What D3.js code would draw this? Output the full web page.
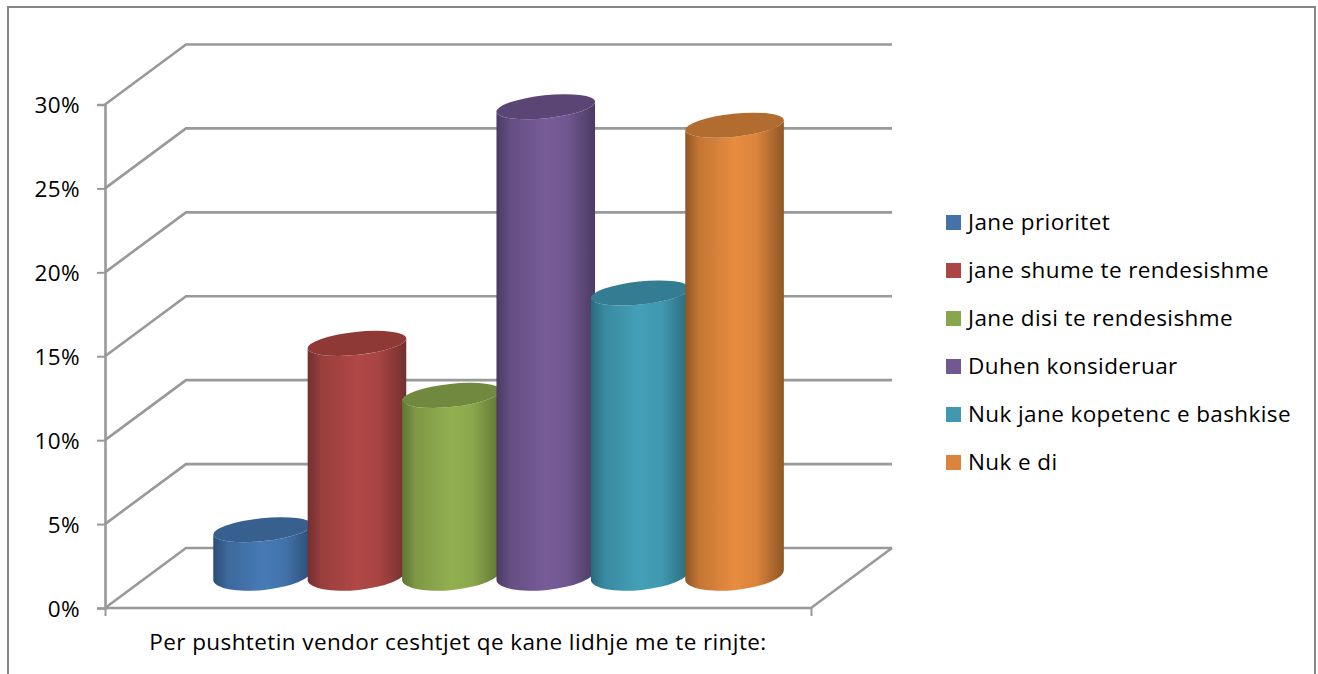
<!DOCTYPE html>
<html><head><meta charset="utf-8">
<script src="https://cdn.jsdelivr.net/npm/d3@7/dist/d3.min.js"></script>
<style>html,body{margin:0;padding:0;background:#fff}svg{display:block}text{font-family:"Open Sans",sans-serif;fill:#000;letter-spacing:0.4px}</style>
</head><body><div id="c"></div>
<script>
const categories=["Jane prioritet","jane shume te rendesishme","Jane disi te rendesishme","Duhen konsideruar","Nuk jane kopetenc e bashkise","Nuk e di"];
const values=[2.7,13.8,10.7,27.9,16.8,26.8];
const ticks=[0,5,10,15,20,25,30];
const axisTitle="Per pushtetin vendor ceshtjet qe kane lidhje me te rinjte:";
const mainColors=["#477ab5","#b04846","#92b050","#775c98","#43a0b8","#e88c40"];
const edgeColors=["#2b4d75","#73302e","#5f7533","#4b3a62","#296a7d","#8f5624"];
const topColors=["#37608f","#8f3937","#71893f","#5a4575","#347c91","#b26c30"];
const legendColors=["#4572a7","#aa4643","#89a54e","#71588f","#4198af","#db843d"];

const W=1318,H=674,FS=22.5;
const svg=d3.select("#c").append("svg").attr("width",W).attr("height",H);
const y=d3.scaleLinear().domain([0,30]).range([608,104.5]);
const x=d3.scaleBand().domain(categories).range([213,779.4]).padding(0);
const dx=81,dy=-60,x0=105,x1=811;
const grid="#999999";

// frame
svg.append("rect").attr("x",8).attr("y",7).attr("width",1307).attr("height",700)
  .attr("fill","#fff").attr("stroke","#868686").attr("stroke-width",2);

// gradients
const defs=svg.append("defs");
categories.forEach((c,i)=>{
  const g=defs.append("linearGradient").attr("id","g"+i).attr("x1",0).attr("x2",1).attr("y1",0).attr("y2",0);
  [[0,edgeColors[i]],[.14,d3.interpolateRgb(edgeColors[i],mainColors[i])(.6)],[.5,mainColors[i]],[.72,d3.interpolateRgb(edgeColors[i],mainColors[i])(.85)],[.92,d3.interpolateRgb(edgeColors[i],mainColors[i])(.25)],[1,edgeColors[i]]]
   .forEach(s=>g.append("stop").attr("offset",s[0]).attr("stop-color",s[1]));
});

// walls and floor
const line=d3.line();
svg.append("g").selectAll("path").data(ticks).join("path")
  .attr("fill","none").attr("stroke",grid).attr("stroke-width",2.6)
  .attr("d",t=>line([[x0,y(t)],[x0+dx,y(t)+dy],[x1+dx,y(t)+dy]]));
svg.append("path").attr("fill","none").attr("stroke",grid).attr("stroke-width",2.6)
  .attr("d",line([[x0,y(0)],[x1,y(0)],[x1+dx,y(0)+dy]]));

// axes
const ya=d3.axisLeft(y).tickValues(ticks).tickFormat(d=>d+"%").tickSize(8).tickPadding(17);
const ga=svg.append("g").attr("transform",`translate(${x0},0)`).call(ya);
ga.selectAll("line").attr("stroke",grid).attr("stroke-width",2);
ga.select(".domain").attr("stroke",grid).attr("stroke-width",2.6);
ga.selectAll("text").attr("font-size",FS).attr("fill","#000").attr("dy","0.36em").style("font-family","Open Sans");
const xa=d3.axisBottom(d3.scaleLinear().domain([0,1]).range([x0,x1])).tickValues([0,1]).tickFormat("").tickSize(8);
const gx=svg.append("g").attr("transform",`translate(0,${y(0)})`).call(xa);
gx.selectAll("line").attr("stroke",grid).attr("stroke-width",2);
gx.select(".domain").remove();

// cylinders
const bw=x.bandwidth()*1.05, rx=bw/2, ryTop=11.5, ryBot=15, tilt=-6, base=-33;
const sx=rx*Math.cos(tilt*Math.PI/180), sy=rx*Math.sin(tilt*Math.PI/180);
const bars=svg.append("g").selectAll("g").data(categories.map((c,i)=>({c,i,v:values[i]}))).join("g");
bars.append("path").attr("fill",d=>`url(#g${d.i})`).attr("d",d=>{
  const cx=x(d.c)+rx, yb=y(0)+base, yt=y(d.v)+base;
  return `M${cx-sx},${yt-sy}L${cx-sx},${yb-sy}A${rx},${ryBot} ${tilt} 0 0 ${cx+sx},${yb+sy}L${cx+sx},${yt+sy}A${rx},${ryTop} ${tilt} 0 1 ${cx-sx},${yt-sy}Z`;
});
bars.append("ellipse").attr("fill",d=>topColors[d.i])
  .attr("cx",0).attr("cy",0).attr("rx",rx).attr("ry",ryTop)
  .attr("transform",d=>`translate(${x(d.c)+rx},${y(d.v)+base}) rotate(${tilt})`);

// category label
svg.append("text").attr("x",458).attr("y",650).attr("text-anchor","middle").attr("font-size",FS).text(axisTitle);

// legend
const leg=svg.append("g").selectAll("g").data(categories).join("g")
  .attr("transform",(d,i)=>`translate(946,${215+48*i})`);
leg.append("rect").attr("width",15).attr("height",15).attr("fill",(d,i)=>legendColors[i]);
leg.append("text").attr("x",22).attr("y",15).attr("font-size",FS).text(d=>d);
</script></body></html>
